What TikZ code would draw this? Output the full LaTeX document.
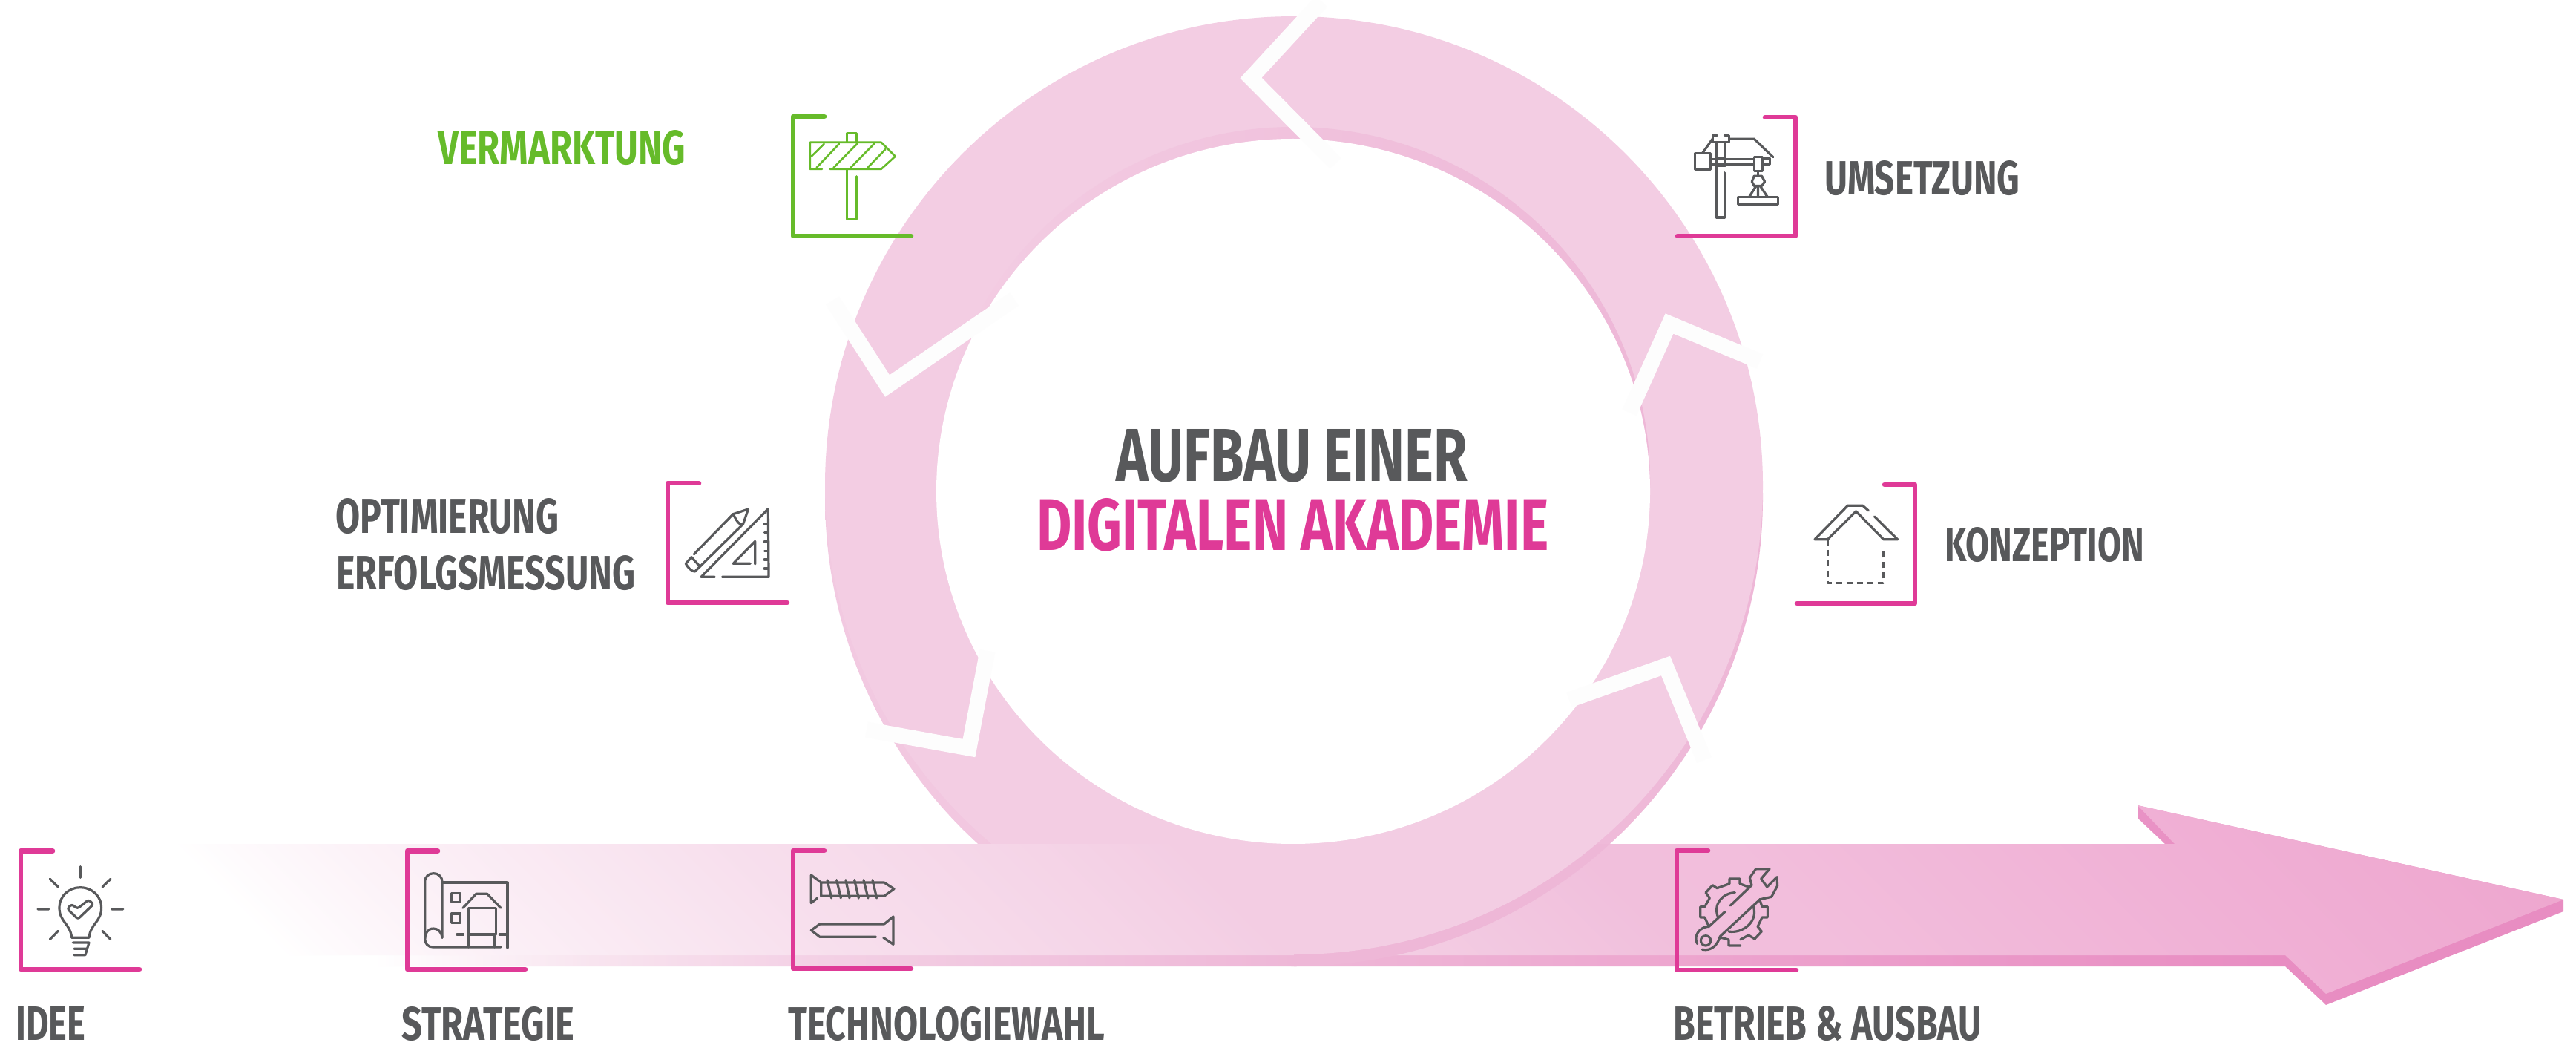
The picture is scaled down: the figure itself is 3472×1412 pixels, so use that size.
\documentclass[tikz,border=0pt]{standalone}
\usepackage{graphicx}
\usepackage{fontspec}
\setmainfont{Fira Sans}
\definecolor{ink}{HTML}{58595B}
\definecolor{hot}{HTML}{DF3A97}
\definecolor{lime}{HTML}{66BB2A}
\definecolor{ringc}{HTML}{F3CDE3}
\definecolor{ringd}{HTML}{EEB7D7}
\definecolor{notch}{HTML}{FDFDFD}
\definecolor{banda}{HTML}{F1BFDC}
\definecolor{bandb}{HTML}{F2BEDC}
\definecolor{bandc}{HTML}{F0B0D5}
\definecolor{bandd}{HTML}{EEA7CF}
\pgfdeclarehorizontalshading{bandlight}{100bp}{
 color(0bp)=(white); color(25bp)=(white); color(26bp)=(white!92!ringc); color(28.6bp)=(white!75!ringc); color(32.5bp)=(white!55!ringc);
 color(36.6bp)=(white!35!ringc); color(38.6bp)=(white!30!ringc); color(43.2bp)=(white!12!ringc); color(45.7bp)=(ringc); color(48.2bp)=(ringc);
 color(53.9bp)=(banda); color(57bp)=(bandb); color(66.1bp)=(bandc); color(73bp)=(bandd); color(100bp)=(bandd)}
\definecolor{stripa}{HTML}{F8E4EF}
\definecolor{stripg}{HTML}{F4D2E6}
\definecolor{striph}{HTML}{F2CCE2}
\definecolor{stripb}{HTML}{F0C0DC}
\definecolor{stripc}{HTML}{EEB7D7}
\definecolor{stripd}{HTML}{EDA8D0}
\definecolor{stripe}{HTML}{ECA0CC}
\definecolor{stripf}{HTML}{E88DC2}
\pgfdeclarehorizontalshading{banddark}{100bp}{
 color(0bp)=(white); color(29.2bp)=(white); color(33.8bp)=(stripa); color(38bp)=(stripg); color(40bp)=(striph); color(44.7bp)=(stripb); color(48.5bp)=(stripc);
 color(55.5bp)=(stripd); color(58.6bp)=(stripe); color(69.2bp)=(stripf); color(100bp)=(stripf)}
\newcommand\caps[3]{\resizebox{#1pt}{#2pt}{\bfseries #3}}
\tikzset{
 lbl/.style={inner sep=0pt,anchor=base west,text=ink},
 bracket/.style={draw=hot,line width=6.6pt,line join=round,line cap=round},
 icon/.style={draw=ink,line width=3.2pt,line join=round,line cap=round},
 notchline/.style={draw=notch,line width=21pt,line join=miter},
 zoomthree/.style={x=0.33333pt,y=-0.33333pt},
}
\begin{document}
\begin{tikzpicture}[x=1pt,y=-1pt]
\useasboundingbox (0,0) rectangle (3472,1412);
\fill[white] (0,0) rectangle (3472,1412);
% ring
\shade[left color=ringc!85!ringd,right color=ringd] (1744,670) circle (632);
\fill[ringc] (1744,654) circle (632);
\shade[left color=ringc,middle color=ringd,right color=ringd] (1743,648) ellipse (481 and 477);
\fill[white] (1743,662) ellipse (481 and 475);
% notches
\draw[notchline] (1781,2) -- (1686,105) -- (1800,220);
\draw[notchline] (1122,405) -- (1196,520) -- (1367,403);
\draw[notchline] (1168,983) -- (1306,1008) -- (1331,877);
\draw[notchline] (2372,487) -- (2250,436) -- (2196,556);
\draw[notchline] (2115,943) -- (2245,897) -- (2297,1024);
% long arrow
\path[shading=banddark] (232,1137) -- (2918,1137) -- (2881,1102) -- (2881,1085) -- (3455,1212) -- (3455,1228) -- (3135,1354) -- (3080,1302) -- (395,1302) -- cycle;
\begin{scope}
\clip (232,1137) -- (2931,1137) -- (2881,1085) -- (3455,1212) -- (3135,1339) -- (3080,1287) -- (380,1287) -- cycle;
\begin{scope}[transform canvas={cm={1,0,-1,1,(-1137pt,0pt)}}]
\path[shading=bandlight] (232,1050) rectangle (3507,1400);
\end{scope}
\end{scope}
% ring passing over the arrow
\begin{scope}
\clip (1744,1137) rectangle (2420,1302);
\fill[ringd] (1744,670) circle (632);
\fill[ringc] (1744,654) circle (632);
\end{scope}
% brackets
\draw[bracket] (71,1146.5) -- (28,1146.5) -- (28,1306) -- (188,1306);
\draw[bracket] (590,1146.5) -- (549,1146.5) -- (549,1306) -- (708,1306);
\draw[bracket] (1111,1146) -- (1069,1146) -- (1069,1305) -- (1228,1305);
\draw[bracket] (2302,1146) -- (2260,1146) -- (2260,1307) -- (2421,1307);
\draw[bracket,draw=lime] (1111,157) -- (1069,157) -- (1069,318) -- (1228,318);
\draw[bracket] (2379,158) -- (2420,158) -- (2420,318) -- (2261,318);
\draw[bracket] (2540,653) -- (2581,653) -- (2581,813) -- (2422,813);
\draw[bracket] (942,651) -- (900,651) -- (900,812) -- (1061,812);
% bulb icon
\begin{scope}[shift={(50,1155)},zoomthree]
\draw[icon] (175,38) -- (175,82) (52,88) -- (85,120) (297,88) -- (264,120) (3,210) -- (47,210) (302,210) -- (347,210) (52,332) -- (85,298) (297,332) -- (264,298);
\draw[icon] (140,325) .. controls (135,270) and (90,260) .. (90,205) .. controls (90,155) and (130,122) .. (175,122) .. controls (220,122) and (260,155) .. (260,205) .. controls (260,260) and (215,270) .. (210,325) -- cycle;
\draw[icon,rounded corners=3pt] (122,208) -- (140,190) -- (163,208) -- (208,172) -- (228,190) -- (165,250) -- cycle;
\draw[icon] (145,345) -- (210,345) -- (195,395) -- (150,395) (150,370) -- (202,370);
\end{scope}
% plan icon
\begin{scope}[shift={(560,1165)},zoomthree]
\draw[icon] (108,295) -- (108,70) .. controls (108,48) and (92,35) .. (73,35) .. controls (54,35) and (38,48) .. (38,70) -- (38,300) .. controls (38,320) and (52,333) .. (70,333) -- (345,333);
\draw[icon] (108,295) .. controls (105,270) and (90,258) .. (72,258) .. controls (50,258) and (38,278) .. (38,300);
\draw[icon] (108,72) -- (372,72) -- (372,335);
\draw[icon] (145,115) rectangle (182,152) (145,198) rectangle (182,235);
\draw[icon] (192,175) -- (245,118) -- (290,118) -- (345,175);
\draw[icon] (215,175) rectangle (325,282);
\draw[icon] (215,282) -- (215,333) (320,282) -- (320,333) (168,282) -- (193,282) (340,282) -- (372,282);
\end{scope}
% screws icon
\begin{scope}[shift={(1080,1165)},zoomthree]
\draw[icon] (65,135) -- (40,155) -- (40,42) -- (80,72) -- (335,72) -- (375,98) -- (335,127) -- (80,127) -- (80,72);
\draw[icon] (105,62) -- (122,135) (143,62) -- (160,135) (180,62) -- (195,135) (215,62) -- (232,135) (252,62) -- (270,135) (288,62) -- (305,135);
\draw[icon] (332,295) -- (372,322) -- (372,210) -- (335,240) -- (75,240) -- (40,265) -- (75,292) -- (302,292);
\end{scope}
% gear icon
\begin{scope}[shift={(2275,1160)},zoomthree]
\draw[icon] (172,180) -- (258,98) -- (250,68) -- (275,32) -- (330,32) -- (296,72) -- (320,105) -- (360,65) -- (362,100) -- (338,145) -- (292,155) -- (130,305) .. controls (120,340) and (95,365) .. (58,358);
\draw[icon] (150,205) -- (85,265) .. controls (50,265) and (20,300) .. (38,335);
\draw[icon] (72,322) circle (20);
\draw[icon] (245,105) -- (210,92) -- (210,72) -- (168,72) -- (168,92) -- (118,110) -- (100,98) -- (72,128) -- (88,150) -- (68,185) -- (50,185) -- (50,228) -- (68,228) -- (85,265);
\draw[icon] (290,155) -- (300,185) -- (322,185) -- (322,228) -- (300,228) -- (282,265) -- (298,285) -- (270,315) -- (245,300) -- (212,318);
\draw[icon] (135,310) -- (165,318) -- (165,342) -- (212,342);
\draw[icon] (190,128) .. controls (140,130) and (100,175) .. (122,228);
\draw[icon] (265,185) .. controls (285,245) and (220,295) .. (165,285);
\end{scope}
% crane and house icons
\begin{scope}[shift={(2100,130)},x=0.5102pt,y=-0.4464pt]
\draw[icon] (418,138) -- (418,365) -- (440,365) -- (440,230);
\draw[icon] (442,138) -- (442,185);
\draw[icon] (418,185) rectangle (442,210);
\draw[icon] (420,118) -- (408,118) -- (408,138) -- (452,138) -- (452,118) -- (440,118);
\draw[icon] (452,128) -- (518,128) -- (568,183);
\draw[icon] (408,128) -- (382,170);
\draw[icon] (362,172) rectangle (402,220);
\draw[icon] (402,190) -- (518,190) (402,205) -- (518,205);
\draw[icon] (542,188) -- (560,188) -- (560,205) -- (542,205);
\draw[icon] (518,182) rectangle (540,225);
\draw[icon] (528,225) -- (528,240);
\draw[icon] (518,240) -- (538,240) -- (546,257) -- (538,270) -- (518,270) -- (512,257) -- cycle;
\draw[icon] (522,272) -- (505,303) (535,272) -- (553,303) (528,270) -- (528,303);
\draw[icon] (476,303) rectangle (581,326);
\draw[icon] (820,1250) -- (805,1235) -- (765,1235) -- (678,1337) -- (712,1337) -- (787,1252) -- (860,1337) -- (897,1337) -- (836,1268);
\draw[icon,line cap=butt,dash pattern=on 8pt off 6pt] (712,1337) -- (712,1468) -- (860,1468) -- (860,1362);
\end{scope}
% pencil and set-square icon
\begin{scope}[shift={(860,620)},x=0.3827pt,y=-0.3333pt]
\draw[icon] (296,472) -- (460,472) -- (458,197) -- (222,472) -- (270,472);
\draw[icon] (445,258) -- (458,258) (445,293) -- (458,293) (445,330) -- (458,330) (445,367) -- (458,367) (445,402) -- (458,402) (445,438) -- (458,438);
\draw[icon] (412,420) -- (412,328) -- (335,418) -- (395,418);
\draw[icon] (197,380) -- (335,218) -- (388,198) -- (370,258) -- (218,430);
\draw[icon] (335,218) .. controls (345,240) and (355,265) .. (370,258);
\draw[icon] (188,392) -- (218,430) -- (200,450) .. controls (190,452) and (172,430) .. (168,418) -- cycle;
\end{scope}
% signpost icon
\begin{scope}[shift={(1000,0)},x=0.574pt,y=-0.3571pt]
\draw[icon,draw=lime,line width=2.6pt] (247,535) -- (247,503) -- (269,503) -- (269,535);
\draw[icon,draw=lime,line width=2.6pt] (188,638) -- (160,638) -- (160,537) -- (327,537) -- (360,590) -- (327,638) -- (207,638);
\draw[icon,draw=lime,line width=2.6pt] (247,638) -- (247,828) -- (269,828) -- (269,665);
\draw[icon,draw=lime,line width=2.6pt] (193,543) -- (163,590) (228,543) -- (175,633) (270,543) -- (215,633) (310,543) -- (255,633) (337,563) -- (295,633);
\end{scope}
% labels
\node[lbl] (idee) at (21,1401) {\caps{94}{45}{IDEE}};
\node[lbl] (strategie) at (541,1401) {\caps{233}{45}{STRATEGIE}};
\node[lbl] (tech) at (1062,1401) {\caps{427}{45}{TECHNOLOGIEWAHL}};
\node[lbl] (betrieb) at (2255,1401) {\caps{416}{46}{BETRIEB \& AUSBAU}};
\node[lbl] (umsetzung) at (2459,263) {\caps{263}{46}{UMSETZUNG}};
\node[lbl] (konzeption) at (2621,756) {\caps{269}{46}{KONZEPTION}};
\node[lbl,text=lime] (vermarktung) at (590,222) {\caps{334}{46}{VERMARKTUNG}};
\node[lbl] (optimierung) at (452,718) {\caps{301}{47}{OPTIMIERUNG}};
\node[lbl] (erfolg) at (453,794) {\caps{403}{46}{ERFOLGSMESSUNG}};
\node[lbl] (aufbau) at (1504,648) {\caps{474}{70}{AUFBAU EINER}};
\node[lbl,text=hot] (digital) at (1397,741) {\caps{690}{70}{DIGITALEN AKADEMIE}};
\end{tikzpicture}
\end{document}
